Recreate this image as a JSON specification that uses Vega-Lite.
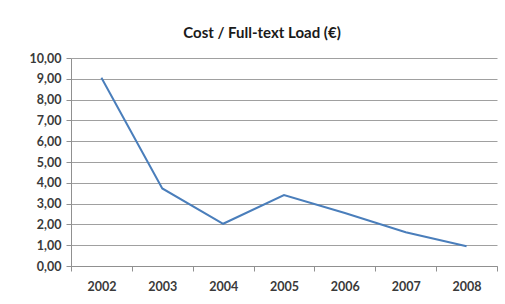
{
  "$schema": "https://vega.github.io/schema/vega-lite/v6.json",
  "autosize": {"type": "none"},
  "padding": {"left": 71, "top": 58, "right": 8, "bottom": 38},
  "width": 426,
  "height": 208,
  "background": "white",
  "title": {
    "text": "Cost / Full-text Load (€)",
    "font": "Lato",
    "fontSize": 15,
    "fontWeight": "bold",
    "color": "#1a1a1a",
    "anchor": "middle",
    "dx": -22,
    "offset": 11
  },
  "data": {
    "values": [
      {"year": "2002", "cost": 9.05},
      {"year": "2003", "cost": 3.73},
      {"year": "2004", "cost": 2.03},
      {"year": "2005", "cost": 3.41},
      {"year": "2006", "cost": 2.55},
      {"year": "2007", "cost": 1.62},
      {"year": "2008", "cost": 0.95}
    ]
  },
  "mark": {"type": "line", "color": "#4a7ebb", "strokeWidth": 2},
  "encoding": {
    "x": {
      "field": "year",
      "type": "ordinal",
      "scale": {"type": "band", "paddingInner": 0, "paddingOuter": 0},
      "axis": {
        "title": null,
        "labelAngle": 0,
        "tickBand": "extent",
        "tickSize": 5,
        "tickColor": "#909090",
        "domainColor": "#909090",
        "labelPadding": 9,
        "labelFont": "Lato",
        "labelFontSize": 12.5,
        "labelFontWeight": "bold",
        "labelColor": "#3a3a3a",
        "grid": false
      }
    },
    "y": {
      "field": "cost",
      "type": "quantitative",
      "scale": {"domain": [0, 10], "nice": false},
      "axis": {
        "title": null,
        "values": [0, 1, 2, 3, 4, 5, 6, 7, 8, 9, 10],
        "labelExpr": "replace(format(datum.value, '.2f'), '.', ',')",
        "tickSize": 5,
        "tickColor": "#909090",
        "domainColor": "#909090",
        "gridColor": "#a0a0a0",
        "gridOpacity": 1,
        "labelPadding": 5,
        "labelFont": "Lato",
        "labelFontSize": 12.5,
        "labelFontWeight": "bold",
        "labelColor": "#3a3a3a"
      }
    }
  },
  "config": {"view": {"stroke": null}}
}
